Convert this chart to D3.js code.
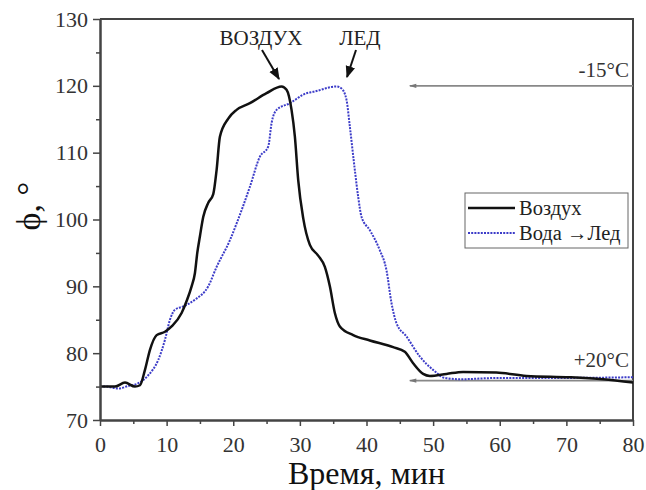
<!DOCTYPE html>
<html>
<head>
<meta charset="utf-8">
<script src="https://cdn.jsdelivr.net/npm/d3@7"></script>
<style>
  body { margin: 0; background: #fff; }
  svg text { font-family: "Liberation Serif", "Tinos", "Times New Roman", "DejaVu Serif", serif; }
</style>
</head>
<body>
<svg id="chart" width="646" height="490"></svg>
<script>
// Воздух (black)
const airT = [0, 2.25, 3.75, 5.25, 6, 6.75, 7.5, 8.5, 9.75, 10.75, 12.25, 13, 13.75, 14.25, 14.6, 15, 15.5, 16.25, 17, 17.5, 18, 19.25, 20.5, 22.5, 25, 27.25, 28, 28.75, 29.25, 29.75, 30.5, 31.5, 32.75, 33.75, 34.5, 35.25, 36, 38, 40.5, 44, 45.75, 47, 48.5, 49.5, 52, 54.5, 59.5, 64, 70.5, 75.5, 80];
const airPhi = [75, 75, 75.6, 75, 75.2, 77.5, 80.5, 82.7, 83.2, 84, 86, 87.8, 90, 92, 95, 97.5, 100.4, 102.5, 103.8, 107.4, 112.4, 115.1, 116.4, 117.4, 118.9, 119.9, 119.4, 116.4, 112.4, 105.9, 100.2, 96.2, 94.6, 92.9, 90, 86, 84, 82.7, 81.9, 80.9, 80.2, 78.5, 76.9, 76.6, 76.9, 77.2, 77.1, 76.6, 76.4, 76.1, 75.6];

// Вода -> Лед (blue dotted)
const iceT = [0, 1, 2, 2.75, 4.25, 5.75, 7.25, 8.75, 9.75, 10.5, 11.25, 12.5, 14.25, 16.25, 17.5, 19.5, 20.5, 22.5, 24, 25.25, 25.75, 26.5, 28.5, 31, 32, 35.5, 36.25, 37, 37.5, 38.25, 38.75, 39.25, 40.5, 42, 43, 43.75, 44.5, 46, 48, 50, 51.75, 54, 60, 70, 80];
const icePhi = [75, 75, 74.8, 74.7, 75.1, 75.5, 76.7, 79, 82, 85, 86.5, 87, 88, 90, 92.9, 96.9, 99.4, 104.9, 109.4, 110.9, 114.4, 116.4, 117.4, 118.9, 119.1, 119.9, 119.6, 117.9, 113.9, 107.4, 103.4, 100.4, 98.4, 95.4, 92.4, 87.5, 84.5, 82.5, 79.5, 77.5, 76.3, 76.1, 76.3, 76.3, 76.4];

const xMajor = [0, 10, 20, 30, 40, 50, 60, 70, 80];
const xMinor = [5, 15, 25, 35, 45, 55, 65, 75];
const yMajor = [70, 80, 90, 100, 110, 120, 130];
const yMinor = [75, 85, 95, 105, 115, 125];

const levels = [
  { label: "-15°C", phi: 120, fromT: 46.5, labelY: 77 },
  { label: "+20°C", phi: 75.9, fromT: 46.5, labelY: 367 }
];

const serif = '"Liberation Serif", "Tinos", "Times New Roman", "DejaVu Serif", serif';

const svg = d3.select("#chart");
const margin = { left: 100, right: 13, top: 19, bottom: 70 };
const width = 646, height = 490;

const x = d3.scaleLinear().domain([0, 80]).range([margin.left, width - margin.right]);
const y = d3.scaleLinear().domain([70, 130]).range([height - margin.bottom, margin.top]);

const axisColor = "#444";

const defs = svg.append("defs");
defs.append("marker").attr("id", "blackHead")
  .attr("viewBox", "0 0 10 10").attr("refX", 9).attr("refY", 5)
  .attr("markerWidth", 6).attr("markerHeight", 6).attr("orient", "auto")
  .append("path").attr("d", "M0,1 L10,5 L0,9 Z").attr("fill", "#111");
defs.append("marker").attr("id", "grayHead")
  .attr("viewBox", "0 0 10 10").attr("refX", 9).attr("refY", 5)
  .attr("markerWidth", 5).attr("markerHeight", 4).attr("orient", "auto")
  .append("path").attr("d", "M0,2 L10,5 L0,8 Z").attr("fill", "#777");

// frame (top and right)
svg.append("path")
  .attr("d", `M${x(0)},${y(130)} H${x(80)} V${y(70)}`)
  .attr("fill", "none").attr("stroke", axisColor).attr("stroke-width", 2);

// level arrows
levels.forEach(l => {
  svg.append("line")
    .attr("x1", x(80)).attr("x2", x(l.fromT))
    .attr("y1", y(l.phi)).attr("y2", y(l.phi))
    .attr("stroke", "#888").attr("stroke-width", 1.8)
    .attr("marker-end", "url(#grayHead)");
  svg.append("text")
    .attr("x", x(80) - 4).attr("y", l.labelY)
    .attr("text-anchor", "end")
    .style("font-family", serif)
    .style("font-size", "21px").style("fill", "#333")
    .text(l.label);
});

// curves
const line = d3.line().x(d => x(d[0])).y(d => y(d[1])).curve(d3.curveMonotoneX);

svg.append("path")
  .datum(iceT.map((t, i) => [t, icePhi[i]]))
  .attr("d", line)
  .attr("fill", "none").attr("stroke", "#3c3cc8")
  .attr("stroke-width", 2).attr("stroke-dasharray", "2,1.2");

svg.append("path")
  .datum(airT.map((t, i) => [t, airPhi[i]]))
  .attr("d", line)
  .attr("fill", "none").attr("stroke", "#111")
  .attr("stroke-width", 2.5).attr("stroke-linejoin", "round");

// axes
function styleAxis(g) {
  g.attr("font-family", serif);
  g.selectAll("path.domain").attr("stroke", axisColor).attr("stroke-width", 2);
  g.selectAll(".tick line").attr("stroke", axisColor).attr("stroke-width", 1.5);
  g.selectAll(".tick text").style("font-size", "22px").style("fill", "#333")
    .style("font-family", serif);
}

svg.append("g").attr("transform", `translate(0,${y(70)})`)
  .call(d3.axisBottom(x).tickValues(xMinor).tickSize(4).tickSizeOuter(0).tickFormat(""))
  .call(styleAxis);
svg.append("g").attr("transform", `translate(0,${y(70)})`)
  .call(d3.axisBottom(x).tickValues(xMajor).tickSize(6).tickSizeOuter(0).tickPadding(10))
  .call(styleAxis);

svg.append("g").attr("transform", `translate(${x(0)},0)`)
  .call(d3.axisLeft(y).tickValues(yMinor).tickSize(4).tickSizeOuter(0).tickFormat(""))
  .call(styleAxis);
svg.append("g").attr("transform", `translate(${x(0)},0)`)
  .call(d3.axisLeft(y).tickValues(yMajor).tickSize(7).tickSizeOuter(0).tickPadding(5))
  .call(styleAxis);

// axis titles
svg.append("text")
  .attr("x", (x(0) + x(80)) / 2).attr("y", 484)
  .attr("text-anchor", "middle")
  .style("font-family", serif)
  .style("font-size", "32px").style("fill", "#111")
  .text("Время, мин");

svg.append("text")
  .attr("transform", `translate(40,${y(102)}) rotate(-90)`)
  .attr("text-anchor", "middle")
  .style("font-family", serif)
  .style("font-size", "34px").style("fill", "#111")
  .text("ϕ, °");

// peak annotations
const notes = [
  { label: "ВОЗДУХ", tx: 261, ty: 45, from: [262, 50], to: [279, 79] },
  { label: "ЛЕД", tx: 360, ty: 45, from: [356, 50], to: [347, 77] }
];
notes.forEach(n => {
  svg.append("text").attr("x", n.tx).attr("y", n.ty)
    .attr("text-anchor", "middle")
    .style("font-family", serif)
    .style("font-size", "21px").style("fill", "#222")
    .text(n.label);
  svg.append("line")
    .attr("x1", n.from[0]).attr("y1", n.from[1])
    .attr("x2", n.to[0]).attr("y2", n.to[1])
    .attr("stroke", "#111").attr("stroke-width", 2)
    .attr("marker-end", "url(#blackHead)");
});

// legend
const legend = svg.append("g").attr("transform", "translate(465,193)");
legend.append("rect").attr("width", 163).attr("height", 55)
  .attr("fill", "#fff").attr("stroke", "#666").attr("stroke-width", 1);
const legendItems = [
  { label: "Воздух", color: "#111", dash: null, w: 2.5 },
  { label: "Вода →Лед", color: "#3c3cc8", dash: "2,1.2", w: 2 }
];
legendItems.forEach((d, i) => {
  const yy = 15 + i * 25;
  legend.append("line").attr("x1", 3).attr("x2", 50).attr("y1", yy).attr("y2", yy)
    .attr("stroke", d.color).attr("stroke-width", d.w)
    .attr("stroke-dasharray", d.dash);
  legend.append("text").attr("x", 54).attr("y", yy + 7)
    .style("font-family", serif)
    .style("font-size", "20.5px").style("fill", "#222")
    .text(d.label);
});
</script>
</body>
</html>
